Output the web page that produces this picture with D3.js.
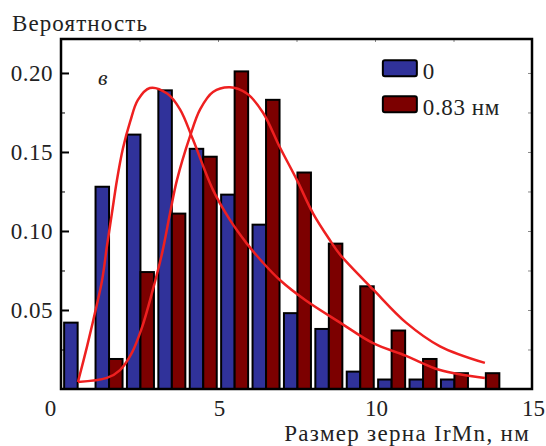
<!DOCTYPE html>
<html lang="ru">
<head>
    <meta charset="UTF-8">
    <title>Распределение зерен IrMn</title>
    <script src="https://d3js.org/d3.v7.min.js"></script>
    <style>
        body { margin: 0; background: #fff; }
        text { font-family: "Liberation Serif", "DejaVu Serif", serif; fill: #222; }
    </style>
</head>
<body>
<script>
    // Data (bin width 1 nm)
    const bins = [0, 1, 2, 3, 4, 5, 6, 7, 8, 9, 10, 11, 12, 13];
    const prob0 = [0.042, 0.128, 0.161, 0.189, 0.152, 0.123, 0.104, 0.048, 0.038, 0.011, 0.006, 0.006, 0.006, 0];
    const prob083 = [0, 0.019, 0.074, 0.111, 0.147, 0.201, 0.183, 0.137, 0.092, 0.065, 0.037, 0.019, 0.010, 0.010];

    // fitted curves, points
    const fit0X = [0.54, 0.83, 1.08, 1.31, 1.46, 1.62, 1.78, 1.97, 2.20, 2.45, 2.83, 3.38, 3.79, 4.20, 4.84, 5.38, 5.92, 6.43, 6.97, 7.80, 8.89, 9.94, 10.99, 12.07, 13.50];
    const fit0Y = [0.0044, 0.027, 0.048, 0.069, 0.090, 0.111, 0.132, 0.152, 0.169, 0.183, 0.1905, 0.187, 0.177, 0.158, 0.126, 0.107, 0.092, 0.080, 0.069, 0.056, 0.042, 0.029, 0.021, 0.012, 0.007];
    const fit083X = [0.54, 1.46, 1.88, 2.26, 2.58, 2.90, 3.22, 3.47, 3.69, 4.11, 4.43, 4.84, 5.38, 5.92, 6.43, 6.97, 7.52, 8.03, 8.57, 8.89, 9.94, 10.99, 12.07, 13.50];
    const fit083Y = [0.0044, 0.007, 0.012, 0.023, 0.039, 0.061, 0.086, 0.111, 0.132, 0.160, 0.177, 0.188, 0.191, 0.187, 0.175, 0.153, 0.132, 0.111, 0.094, 0.085, 0.063, 0.042, 0.027, 0.0165];

    const xTicks = [0, 5, 10, 15];
    const yTicks = [0.05, 0.10, 0.15, 0.20];
    const seriesNames = ["0", "0.83 нм"];
    const colors = ["#30329a", "#7c0000"];

    const W = 546, H = 446;
    const margin = {top: 39, right: 14, bottom: 57, left: 61};
    const width = W - margin.left - margin.right;
    const height = H - margin.top - margin.bottom;

    const svg = d3.select("body").append("svg")
        .attr("width", W)
        .attr("height", H);

    const g = svg.append("g")
        .attr("transform", `translate(${margin.left},${margin.top})`);

    const x = d3.scaleLinear().domain([0, 15]).range([0, width]);
    const y = d3.scaleLinear().domain([0, 0.2215]).range([height, 0]);

    // bars: blue then dark red inside each 1 nm bin
    const barW = x(0.43) - x(0);
    [prob0, prob083].forEach((vals, s) => {
        g.append("g").selectAll("rect")
            .data(bins.filter((b, i) => vals[i] > 0))
            .join("rect")
            .attr("x", b => x(b + (s === 0 ? 0.1 : 0.53)))
            .attr("y", b => y(vals[b]))
            .attr("width", barW)
            .attr("height", b => y(0) - y(vals[b]))
            .attr("fill", colors[s])
            .attr("stroke", "#000")
            .attr("stroke-width", 2);
    });

    // fitted curves
    const line = d3.line()
        .x(d => x(d[0]))
        .y(d => y(d[1]))
        .curve(d3.curveCatmullRom.alpha(0.5));

    [[fit0X, fit0Y], [fit083X, fit083Y]].forEach(([xs, ys]) => {
        g.append("path")
            .datum(xs.map((v, i) => [v, ys[i]]))
            .attr("d", line)
            .attr("fill", "none")
            .attr("stroke", "#ee2020")
            .attr("stroke-width", 2.5);
    });

    // axes
    const minorY = d3.range(0.025, 0.22, 0.025);
    g.append("g")
        .call(d3.axisLeft(y).tickValues(minorY).tickSize(-4).tickFormat(""))
        .call(a => a.select(".domain").remove());
    const yAxis = g.append("g")
        .call(d3.axisLeft(y).tickValues(yTicks).tickSize(-8).tickPadding(8).tickFormat(d3.format(".2f")));
    yAxis.select(".domain").remove();
    yAxis.selectAll("line").attr("stroke-width", 2);
    yAxis.selectAll("text").attr("font-size", 23).style("font-family", "Liberation Serif")
        .attr("letter-spacing", 0.5);

    g.append("g")
        .attr("transform", `translate(${width},0)`)
        .call(d3.axisRight(y).tickValues(minorY).tickSize(-4).tickFormat(""))
        .call(a => a.select(".domain").remove())
        .selectAll("line").attr("stroke", "#888");

    g.append("g")
        .call(d3.axisTop(x).tickValues(d3.range(2.5, 15, 2.5)).tickSize(-3).tickFormat(""))
        .call(a => a.select(".domain").remove())
        .selectAll("line").attr("stroke", "#888");

    const xAxis = g.append("g")
        .attr("transform", `translate(0,${height})`)
        .call(d3.axisBottom(x).tickValues(xTicks).tickSize(0).tickPadding(11).tickFormat(d3.format("d")));
    xAxis.select(".domain").remove();
    xAxis.selectAll("text").attr("font-size", 23).style("font-family", "Liberation Serif")
        .attr("dx", d => d === 0 ? -11 : 1);

    // frame
    g.append("rect")
        .attr("width", width)
        .attr("height", height)
        .attr("fill", "none")
        .attr("stroke", "#000")
        .attr("stroke-width", 2.5);

    // panel letter
    g.append("text")
        .attr("x", x(1.18))
        .attr("y", y(0.2) + 12)
        .attr("font-size", 22)
        .attr("font-style", "italic")
        .text("в");

    // legend
    const legend = g.append("g").attr("transform", `translate(${x(10.25)},${y(0.208)})`);
    seriesNames.forEach((name, i) => {
        legend.append("rect")
            .attr("x", 0)
            .attr("y", i * 36)
            .attr("width", 34)
            .attr("height", 16)
            .attr("rx", 2)
            .attr("fill", colors[i])
            .attr("stroke", "#000")
            .attr("stroke-width", 2);
        legend.append("text")
            .attr("x", 40)
            .attr("y", i * 36 + 19)
            .attr("font-size", 23)
            .attr("letter-spacing", 0.6)
            .text(name);
    });

    // axis titles
    svg.append("text")
        .attr("x", 12)
        .attr("y", 31)
        .attr("font-size", 23)
        .attr("letter-spacing", 1.1)
        .text("Вероятность");

    svg.append("text")
        .attr("x", 530)
        .attr("y", 441)
        .attr("text-anchor", "end")
        .attr("font-size", 23)
        .attr("letter-spacing", 1.3)
        .text("Размер зерна IrMn, нм");
</script>
</body>
</html>
